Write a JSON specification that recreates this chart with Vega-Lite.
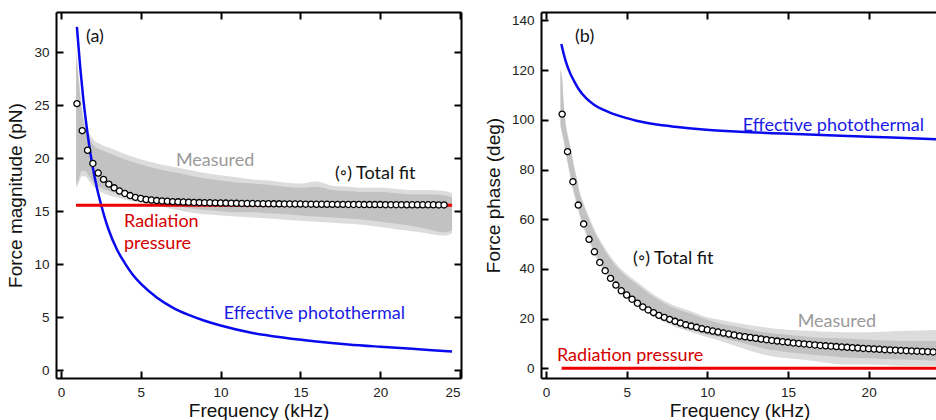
{
  "$schema": "https://vega.github.io/schema/vega-lite/v6.json",
  "background": "white",
  "padding": {"left": 6, "top": 11, "right": 0, "bottom": 0},
  "spacing": 22,
  "config": {
    "view": {"stroke": null},
    "axis": {
      "labelFont": "Arial", "labelFontSize": 13.5, "labelColor": "#222",
      "titleFont": "Arial", "titleFontSize": 19, "titleFontWeight": "normal", "titleColor": "#111",
      "tickColor": "black", "tickWidth": 2, "tickSize": -7,
      "domain": true, "domainColor": "black", "domainWidth": 2, "grid": false
    },
    "axisX": {"labelPadding": 14, "titlePadding": 3},
    "axisY": {"labelPadding": 14, "titlePadding": 8}
  },
  "datasets": {
    "magOuter": [
      {"f":0.95,"lo":17.2,"hi":30.2},{"f":1.1,"lo":17.6,"hi":28.0},{"f":1.3,"lo":18.3,"hi":25.0},{"f":1.5,"lo":18.3,"hi":23.3},
      {"f":1.8,"lo":17.8,"hi":22.3},{"f":2.0,"lo":17.4,"hi":21.8},{"f":2.5,"lo":16.8,"hi":21.3},{"f":3.0,"lo":16.5,"hi":21.0},
      {"f":4.0,"lo":16.1,"hi":20.4},{"f":5.0,"lo":15.8,"hi":19.9},{"f":6.0,"lo":15.5,"hi":19.5},{"f":7.0,"lo":15.2,"hi":19.2},
      {"f":8.0,"lo":14.9,"hi":18.9},{"f":9.0,"lo":14.7,"hi":18.6},{"f":10.0,"lo":14.6,"hi":18.4},{"f":11.0,"lo":14.5,"hi":18.2},
      {"f":12.0,"lo":14.4,"hi":18.0},{"f":13.0,"lo":14.3,"hi":17.9},{"f":14.0,"lo":14.2,"hi":17.7},{"f":15.0,"lo":14.1,"hi":17.6},
      {"f":16.0,"lo":14.0,"hi":17.8},{"f":17.0,"lo":13.9,"hi":17.4},{"f":18.0,"lo":13.8,"hi":17.3},{"f":19.0,"lo":13.7,"hi":17.2},
      {"f":20.0,"lo":13.5,"hi":17.2},{"f":21.0,"lo":13.3,"hi":17.1},{"f":22.0,"lo":13.1,"hi":17.0},{"f":23.0,"lo":12.9,"hi":17.0},
      {"f":24.0,"lo":12.7,"hi":16.9},{"f":24.5,"lo":12.9,"hi":16.7}
    ],
    "magBand": [
      {"f":0.95,"lo":17.5,"hi":29.8},{"f":1.1,"lo":18.0,"hi":27.5},{"f":1.3,"lo":18.8,"hi":24.5},{"f":1.5,"lo":18.8,"hi":22.8},
      {"f":1.8,"lo":18.2,"hi":21.8},{"f":2.0,"lo":17.8,"hi":21.3},{"f":2.5,"lo":17.2,"hi":20.8},{"f":3.0,"lo":16.9,"hi":20.5},
      {"f":4.0,"lo":16.5,"hi":19.9},{"f":5.0,"lo":16.2,"hi":19.4},{"f":6.0,"lo":15.9,"hi":19.0},{"f":7.0,"lo":15.6,"hi":18.7},
      {"f":8.0,"lo":15.3,"hi":18.4},{"f":9.0,"lo":15.1,"hi":18.1},{"f":10.0,"lo":15.0,"hi":17.9},{"f":11.0,"lo":14.9,"hi":17.7},
      {"f":12.0,"lo":14.9,"hi":17.6},{"f":13.0,"lo":14.8,"hi":17.5},{"f":14.0,"lo":14.7,"hi":17.3},{"f":15.0,"lo":14.6,"hi":17.2},
      {"f":16.0,"lo":14.5,"hi":17.3},{"f":17.0,"lo":14.4,"hi":17.0},{"f":18.0,"lo":14.3,"hi":16.9},{"f":19.0,"lo":14.2,"hi":16.8},
      {"f":20.0,"lo":14.0,"hi":16.8},{"f":21.0,"lo":13.8,"hi":16.7},{"f":22.0,"lo":13.6,"hi":16.6},{"f":23.0,"lo":13.3,"hi":16.6},
      {"f":24.0,"lo":13.0,"hi":16.5},{"f":24.5,"lo":13.2,"hi":16.3}
    ],
    "magPT": [
      {"f":1.0,"v":32.4},{"f":1.2,"v":28.7},{"f":1.4,"v":25.6},{"f":1.6,"v":23.1},{"f":1.8,"v":20.9},{"f":2.0,"v":19.1},
      {"f":2.25,"v":17.2},{"f":2.5,"v":15.7},{"f":2.75,"v":14.35},{"f":3.0,"v":13.2},{"f":3.5,"v":11.4},{"f":4.0,"v":10.1},
      {"f":4.5,"v":9.0},{"f":5.0,"v":8.15},{"f":6.0,"v":6.85},{"f":7.0,"v":5.9},{"f":8.0,"v":5.2},{"f":9.0,"v":4.65},
      {"f":10.0,"v":4.2},{"f":12.0,"v":3.5},{"f":14.0,"v":3.05},{"f":16.0,"v":2.7},{"f":18.0,"v":2.42},{"f":20.0,"v":2.2},
      {"f":22.0,"v":2.0},{"f":24.5,"v":1.75}
    ],
    "magRP": [{"f":0.95,"v":15.55},{"f":24.5,"v":15.55}],
    "magFit": [
      {"f":1,"v":25.15},{"f":1.333,"v":22.6},{"f":1.667,"v":20.75},{"f":2,"v":19.5},{"f":2.333,"v":18.6},{"f":2.667,"v":18.0},
      {"f":3,"v":17.55},{"f":3.333,"v":17.2},{"f":3.667,"v":16.9},{"f":4,"v":16.67},{"f":4.333,"v":16.47},{"f":4.667,"v":16.3},
      {"f":5,"v":16.2},{"f":5.333,"v":16.1},{"f":5.667,"v":16.05},{"f":6,"v":16.0},{"f":6.333,"v":15.96},{"f":6.667,"v":15.93},
      {"f":7,"v":15.9},{"f":7.333,"v":15.88},{"f":7.667,"v":15.86},{"f":8,"v":15.84},{"f":8.333,"v":15.82},{"f":8.667,"v":15.81},
      {"f":9,"v":15.8},{"f":9.333,"v":15.79},{"f":9.667,"v":15.78},{"f":10,"v":15.77},{"f":10.333,"v":15.76},{"f":10.667,"v":15.75},
      {"f":11,"v":15.74},{"f":11.333,"v":15.73},{"f":11.667,"v":15.72},{"f":12,"v":15.72},{"f":12.333,"v":15.71},{"f":12.667,"v":15.7},
      {"f":13,"v":15.7},{"f":13.333,"v":15.69},{"f":13.667,"v":15.69},{"f":14,"v":15.68},{"f":14.333,"v":15.68},{"f":14.667,"v":15.67},
      {"f":15,"v":15.67},{"f":15.333,"v":15.66},{"f":15.667,"v":15.66},{"f":16,"v":15.65},{"f":16.333,"v":15.65},{"f":16.667,"v":15.65},
      {"f":17,"v":15.64},{"f":17.333,"v":15.64},{"f":17.667,"v":15.64},{"f":18,"v":15.63},{"f":18.333,"v":15.63},{"f":18.667,"v":15.63},
      {"f":19,"v":15.62},{"f":19.333,"v":15.62},{"f":19.667,"v":15.62},{"f":20,"v":15.62},{"f":20.333,"v":15.61},{"f":20.667,"v":15.61},
      {"f":21,"v":15.61},{"f":21.333,"v":15.61},{"f":21.667,"v":15.6},{"f":22,"v":15.6},{"f":22.333,"v":15.6},{"f":22.667,"v":15.6},
      {"f":23,"v":15.6},{"f":23.333,"v":15.6},{"f":23.667,"v":15.59},{"f":24,"v":15.59}
    ],
    "phOuter": [
      {"f":0.9,"lo":97,"hi":121},{"f":1.0,"lo":94,"hi":117},{"f":1.1,"lo":91,"hi":107},{"f":1.2,"lo":87,"hi":100},
      {"f":1.35,"lo":82,"hi":94},{"f":1.5,"lo":77,"hi":90},{"f":1.7,"lo":71,"hi":83},{"f":1.9,"lo":66,"hi":77},
      {"f":2.1,"lo":61,"hi":71},{"f":2.3,"lo":57,"hi":67},{"f":2.6,"lo":52,"hi":62},{"f":3.0,"lo":46,"hi":56},
      {"f":3.5,"lo":40,"hi":50},{"f":4.0,"lo":35.5,"hi":45},{"f":4.5,"lo":32,"hi":41},{"f":5.0,"lo":29,"hi":38},
      {"f":5.6,"lo":25.5,"hi":35},{"f":6.5,"lo":21.5,"hi":30.5},{"f":7.7,"lo":17.5,"hi":26},{"f":9.0,"lo":14.5,"hi":23},
      {"f":10.0,"lo":12.5,"hi":20.5},{"f":10.8,"lo":11,"hi":19.5},{"f":12.0,"lo":8.5,"hi":18},{"f":13.5,"lo":5.5,"hi":16.5},
      {"f":15.0,"lo":4,"hi":15.5},{"f":16.5,"lo":3,"hi":15},{"f":18.4,"lo":1.5,"hi":14.5},{"f":20.0,"lo":1.5,"hi":14.5},
      {"f":22.0,"lo":1,"hi":15},{"f":24.4,"lo":1,"hi":15.5}
    ],
    "phBand": [
      {"f":0.9,"lo":98,"hi":120},{"f":1.0,"lo":95,"hi":116},{"f":1.1,"lo":92,"hi":106},{"f":1.2,"lo":88,"hi":99},
      {"f":1.35,"lo":83,"hi":93},{"f":1.5,"lo":78,"hi":89},{"f":1.7,"lo":72,"hi":82},{"f":1.9,"lo":67,"hi":76},
      {"f":2.1,"lo":62,"hi":70},{"f":2.3,"lo":58,"hi":66},{"f":2.6,"lo":53,"hi":61},{"f":3.0,"lo":47,"hi":55},
      {"f":3.5,"lo":41,"hi":49},{"f":4.0,"lo":36.5,"hi":44},{"f":4.5,"lo":33,"hi":40},{"f":5.0,"lo":30,"hi":37},
      {"f":5.6,"lo":26.5,"hi":34},{"f":6.5,"lo":22.5,"hi":29.5},{"f":7.7,"lo":18.5,"hi":25},{"f":9.0,"lo":15.5,"hi":22},
      {"f":10.0,"lo":13.5,"hi":19.5},{"f":10.8,"lo":12.5,"hi":18},{"f":12.0,"lo":10.5,"hi":16.5},{"f":13.5,"lo":8,"hi":14.5},
      {"f":15.0,"lo":6.5,"hi":13.5},{"f":16.5,"lo":5.5,"hi":12.5},{"f":18.4,"lo":4.5,"hi":12},{"f":20.0,"lo":4,"hi":11.5},
      {"f":22.0,"lo":3.5,"hi":11},{"f":24.4,"lo":3,"hi":11}
    ],
    "phPT": [
      {"f":0.95,"v":130.5},{"f":1.1,"v":126.5},{"f":1.25,"v":123},{"f":1.5,"v":118.7},{"f":1.75,"v":115.5},{"f":2.0,"v":112.6},
      {"f":2.5,"v":108.6},{"f":3.0,"v":106},{"f":3.5,"v":104.2},{"f":4.0,"v":102.8},{"f":5.0,"v":100.7},{"f":5.6,"v":99.6},
      {"f":7.0,"v":98.0},{"f":8.0,"v":97.2},{"f":9.75,"v":96.1},{"f":12.0,"v":95.2},{"f":15.9,"v":94.2},{"f":20.0,"v":93.2},
      {"f":24.2,"v":92.2},{"f":25,"v":92.0}
    ],
    "phRP": [{"f":0.97,"v":0},{"f":25,"v":0}],
    "phFit": [
      {"f":1,"v":102.3},{"f":1.333,"v":87.2},{"f":1.667,"v":75.1},{"f":2,"v":65.7},{"f":2.333,"v":58.1},{"f":2.667,"v":51.9},
      {"f":3,"v":46.9},{"f":3.333,"v":42.6},{"f":3.667,"v":39.3},{"f":4,"v":36.2},{"f":4.333,"v":33.5},{"f":4.667,"v":31.2},
      {"f":5,"v":29.5},{"f":5.333,"v":27.8},{"f":5.667,"v":26.2},{"f":6,"v":24.7},{"f":6.333,"v":23.5},{"f":6.667,"v":22.4},
      {"f":7,"v":21.3},{"f":7.333,"v":20.5},{"f":7.667,"v":19.7},{"f":8,"v":18.9},{"f":8.333,"v":18.2},{"f":8.667,"v":17.5},
      {"f":9,"v":17.0},{"f":9.333,"v":16.5},{"f":9.667,"v":15.9},{"f":10,"v":15.5},{"f":10.333,"v":15.0},{"f":10.667,"v":14.6},
      {"f":11,"v":14.2},{"f":11.333,"v":13.8},{"f":11.667,"v":13.4},{"f":12,"v":13.0},{"f":12.333,"v":12.7},{"f":12.667,"v":12.4},
      {"f":13,"v":12.1},{"f":13.333,"v":11.8},{"f":13.667,"v":11.5},{"f":14,"v":11.2},{"f":14.333,"v":10.95},{"f":14.667,"v":10.7},
      {"f":15,"v":10.45},{"f":15.333,"v":10.2},{"f":15.667,"v":10.0},{"f":16,"v":9.8},{"f":16.333,"v":9.6},{"f":16.667,"v":9.4},
      {"f":17,"v":9.2},{"f":17.333,"v":9.05},{"f":17.667,"v":8.9},{"f":18,"v":8.75},{"f":18.333,"v":8.6},{"f":18.667,"v":8.45},
      {"f":19,"v":8.3},{"f":19.333,"v":8.15},{"f":19.667,"v":8.0},{"f":20,"v":7.9},{"f":20.333,"v":7.75},{"f":20.667,"v":7.65},
      {"f":21,"v":7.5},{"f":21.333,"v":7.4},{"f":21.667,"v":7.3},{"f":22,"v":7.2},{"f":22.333,"v":7.1},{"f":22.667,"v":7.0},
      {"f":23,"v":6.9},{"f":23.333,"v":6.8},{"f":23.667,"v":6.7},{"f":24,"v":6.6}
    ]
  },
  "hconcat": [
    {
      "width": 405, "height": 366,
      "layer": [
        {
          "data": {"name": "magOuter"},
          "mark": {"type": "area", "color": "#dcdcdc", "opacity": 1, "interpolate": "monotone"},
          "encoding": {
            "x": {"field": "f", "type": "quantitative", "scale": {"domain": [-0.31, 25.06], "nice": false, "zero": false},
                  "axis": {"orient": "bottom", "values": [0, 5, 10, 15, 20, 25], "title": "Frequency (kHz)"}},
            "y": {"field": "lo", "type": "quantitative", "scale": {"domain": [-0.75, 33.8], "nice": false, "zero": false},
                  "axis": {"orient": "left", "values": [0, 5, 10, 15, 20, 25, 30], "title": "Force magnitude (pN)"}},
            "y2": {"field": "hi"}
          }
        },
        {
          "data": {"name": "magBand"},
          "mark": {"type": "area", "color": "#c2c2c2", "opacity": 1, "interpolate": "monotone"},
          "encoding": {
            "x": {"field": "f", "type": "quantitative", "axis": null},
            "y": {"field": "lo", "type": "quantitative", "axis": null},
            "y2": {"field": "hi"}
          }
        },
        {
          "data": {"name": "magPT"},
          "mark": {"type": "line", "color": "#0a0aee", "strokeWidth": 2.5, "interpolate": "monotone"},
          "encoding": {
            "x": {"field": "f", "type": "quantitative", "axis": {"orient": "top", "values": [0, 5, 10, 15, 20, 25], "labels": false, "title": null}},
            "y": {"field": "v", "type": "quantitative", "axis": {"orient": "right", "values": [0, 5, 10, 15, 20, 25, 30], "labels": false, "title": null}}
          }
        },
        {
          "data": {"name": "magRP"},
          "mark": {"type": "line", "color": "#ee0000", "strokeWidth": 3},
          "encoding": {
            "x": {"field": "f", "type": "quantitative", "axis": null},
            "y": {"field": "v", "type": "quantitative", "axis": null}
          }
        },
        {
          "data": {"name": "magFit"},
          "mark": {"type": "point", "filled": true, "fill": "white", "stroke": "black", "strokeWidth": 1.3, "size": 38, "opacity": 1},
          "encoding": {
            "x": {"field": "f", "type": "quantitative", "axis": null},
            "y": {"field": "v", "type": "quantitative", "axis": null}
          }
        },
        {
          "data": {"values": [{"x": 1.57, "y": 31.4, "t": "(a)"}, {"x": 17.17, "y": 18.5, "t": "(◦) Total fit"}]},
          "mark": {"type": "text", "color": "#111", "font": "Lato", "fontSize": 18, "align": "left", "baseline": "middle"},
          "encoding": {
            "x": {"field": "x", "type": "quantitative", "axis": null},
            "y": {"field": "y", "type": "quantitative", "axis": null},
            "text": {"field": "t"}
          }
        },
        {
          "data": {"values": [{"x": 7.2, "y": 19.7, "t": "Measured"}]},
          "mark": {"type": "text", "color": "#9a9a9a", "font": "Lato", "fontSize": 18, "align": "left", "baseline": "middle"},
          "encoding": {
            "x": {"field": "x", "type": "quantitative", "axis": null},
            "y": {"field": "y", "type": "quantitative", "axis": null},
            "text": {"field": "t"}
          }
        },
        {
          "data": {"values": [{"x": 3.95, "y": 14.0, "t": "Radiation"}, {"x": 3.95, "y": 11.9, "t": "pressure"}]},
          "mark": {"type": "text", "color": "#d40000", "font": "Lato", "fontSize": 18, "align": "left", "baseline": "middle"},
          "encoding": {
            "x": {"field": "x", "type": "quantitative", "axis": null},
            "y": {"field": "y", "type": "quantitative", "axis": null},
            "text": {"field": "t"}
          }
        },
        {
          "data": {"values": [{"x": 10.2, "y": 5.3, "t": "Effective photothermal"}]},
          "mark": {"type": "text", "color": "#1a1ae6", "font": "Lato", "fontSize": 18, "align": "left", "baseline": "middle"},
          "encoding": {
            "x": {"field": "x", "type": "quantitative", "axis": null},
            "y": {"field": "y", "type": "quantitative", "axis": null},
            "text": {"field": "t"}
          }
        }
      ],
      "resolve": {"axis": {"x": "independent", "y": "independent"}}
    },
    {
      "width": 397, "height": 366,
      "layer": [
        {
          "data": {"name": "phOuter"},
          "mark": {"type": "area", "color": "#dcdcdc", "opacity": 1, "clip": true, "interpolate": "monotone"},
          "encoding": {
            "x": {"field": "f", "type": "quantitative", "scale": {"domain": [-0.31, 24.3], "nice": false, "zero": false},
                  "axis": {"orient": "bottom", "values": [0, 5, 10, 15, 20], "title": "Frequency (kHz)"}},
            "y": {"field": "lo", "type": "quantitative", "scale": {"domain": [-3.9, 143.4], "nice": false, "zero": false},
                  "axis": {"orient": "left", "values": [0, 20, 40, 60, 80, 100, 120, 140], "title": "Force phase (deg)"}},
            "y2": {"field": "hi"}
          }
        },
        {
          "data": {"name": "phBand"},
          "mark": {"type": "area", "color": "#c2c2c2", "opacity": 1, "clip": true, "interpolate": "monotone"},
          "encoding": {
            "x": {"field": "f", "type": "quantitative", "axis": null},
            "y": {"field": "lo", "type": "quantitative", "axis": null},
            "y2": {"field": "hi"}
          }
        },
        {
          "data": {"name": "phPT"},
          "mark": {"type": "line", "color": "#0a0aee", "strokeWidth": 2.5, "clip": true, "interpolate": "monotone"},
          "encoding": {
            "x": {"field": "f", "type": "quantitative", "axis": {"orient": "top", "values": [0, 5, 10, 15, 20], "labels": false, "title": null}},
            "y": {"field": "v", "type": "quantitative", "axis": null}
          }
        },
        {
          "data": {"name": "phRP"},
          "mark": {"type": "line", "color": "#ee0000", "strokeWidth": 3, "clip": true},
          "encoding": {
            "x": {"field": "f", "type": "quantitative", "axis": null},
            "y": {"field": "v", "type": "quantitative", "axis": null}
          }
        },
        {
          "data": {"name": "phFit"},
          "mark": {"type": "point", "filled": true, "fill": "white", "stroke": "black", "strokeWidth": 1.3, "size": 38, "opacity": 1, "clip": true},
          "encoding": {
            "x": {"field": "f", "type": "quantitative", "axis": null},
            "y": {"field": "v", "type": "quantitative", "axis": null}
          }
        },
        {
          "data": {"values": [{"x": 1.8, "y": 133.4, "t": "(b)"}, {"x": 5.4, "y": 44, "t": "(◦) Total fit"}]},
          "mark": {"type": "text", "color": "#111", "font": "Lato", "fontSize": 18, "align": "left", "baseline": "middle"},
          "encoding": {
            "x": {"field": "x", "type": "quantitative", "axis": null},
            "y": {"field": "y", "type": "quantitative", "axis": null},
            "text": {"field": "t"}
          }
        },
        {
          "data": {"values": [{"x": 15.6, "y": 18.6, "t": "Measured"}]},
          "mark": {"type": "text", "color": "#9a9a9a", "font": "Lato", "fontSize": 18, "align": "left", "baseline": "middle"},
          "encoding": {
            "x": {"field": "x", "type": "quantitative", "axis": null},
            "y": {"field": "y", "type": "quantitative", "axis": null},
            "text": {"field": "t"}
          }
        },
        {
          "data": {"values": [{"x": 0.68, "y": 5.1, "t": "Radiation pressure"}]},
          "mark": {"type": "text", "color": "#d40000", "font": "Lato", "fontSize": 18, "align": "left", "baseline": "middle"},
          "encoding": {
            "x": {"field": "x", "type": "quantitative", "axis": null},
            "y": {"field": "y", "type": "quantitative", "axis": null},
            "text": {"field": "t"}
          }
        },
        {
          "data": {"values": [{"x": 12.2, "y": 97.5, "t": "Effective photothermal"}]},
          "mark": {"type": "text", "color": "#1a1ae6", "font": "Lato", "fontSize": 18, "align": "left", "baseline": "middle"},
          "encoding": {
            "x": {"field": "x", "type": "quantitative", "axis": null},
            "y": {"field": "y", "type": "quantitative", "axis": null},
            "text": {"field": "t"}
          }
        }
      ],
      "resolve": {"axis": {"x": "independent", "y": "independent"}}
    }
  ]
}
